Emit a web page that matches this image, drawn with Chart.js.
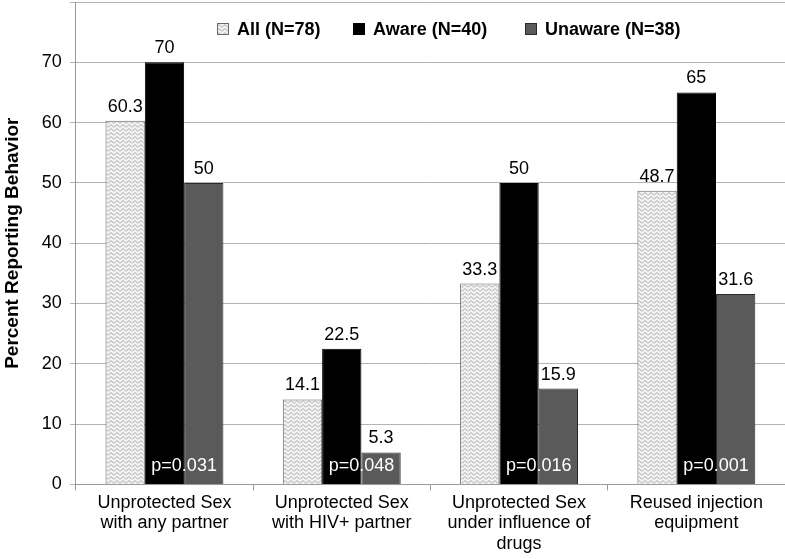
<!DOCTYPE html>
<html>
<head>
<meta charset="utf-8">
<script src="https://cdn.jsdelivr.net/npm/chart.js@4.4.0/dist/chart.umd.min.js"></script>
<style>
  html, body { margin: 0; padding: 0; background: #fff; }
  #wrap { width: 785px; height: 559px; }
</style>
</head>
<body>
<div id="wrap"><canvas id="chart"></canvas></div>
<script>
// categories and values
const categories = [
    ['Unprotected Sex', 'with any partner'],
    ['Unprotected Sex', 'with HIV+ partner'],
    ['Unprotected Sex', 'under influence of', 'drugs'],
    ['Reused injection', 'equipment']
];
const allValues = [60.3, 14.1, 33.3, 48.7];
const awareValues = [70, 22.5, 50, 65];
const unawareValues = [50, 5.3, 15.9, 31.6];
const pValues = ['p=0.031', 'p=0.048', 'p=0.016', 'p=0.001'];

const FONT = 'Liberation Sans, Arial, sans-serif';

// zigzag fill for the "All" bars
function zigzagPattern() {
    const c = document.createElement('canvas');
    c.width = 6; c.height = 4;
    const g = c.getContext('2d');
    g.fillStyle = '#f2f2f2';
    g.fillRect(0, 0, 6, 4);
    g.strokeStyle = '#a8a8a8';
    g.lineWidth = 1;
    g.beginPath();
    g.moveTo(0, 3.5); g.lineTo(3, 0.5); g.lineTo(6, 3.5);
    g.stroke();
    return g.createPattern(c, 'repeat');
}

const barLabels = {
    id: 'barLabels',
    afterDatasetsDraw(chart) {
        const ctx = chart.ctx;
        ctx.save();
        ctx.font = '18px ' + FONT;
        ctx.textAlign = 'center';
        ctx.textBaseline = 'bottom';
        ctx.fillStyle = '#000';
        chart.data.datasets.forEach((ds, i) => {
            chart.getDatasetMeta(i).data.forEach((bar, j) => {
                ctx.fillText(String(ds.data[j]), bar.x, bar.y - 5);
            });
        });
        // p values, centred on the Aware/Unaware boundary
        const aware = chart.getDatasetMeta(1).data;
        const base = chart.scales.y.getPixelForValue(0);
        ctx.fillStyle = '#fff';
        ctx.textBaseline = 'middle';
        aware.forEach((bar, j) => {
            ctx.fillText(pValues[j], bar.x + bar.width / 2, base - 18);
        });
        ctx.restore();
    }
};

// legend drawn inside the plot, across the top
const topLegend = {
    id: 'topLegend',
    afterDraw(chart) {
        const ctx = chart.ctx;
        const items = [[217, 237], [353, 373], [525, 545]];
        const y = 29;
        ctx.save();
        ctx.font = 'bold 18px ' + FONT;
        ctx.textAlign = 'left';
        ctx.textBaseline = 'middle';
        chart.data.datasets.forEach((ds, i) => {
            const [bx, tx] = items[i];
            ctx.fillStyle = ds.backgroundColor;
            ctx.fillRect(bx, y - 6, 12, 12);
            ctx.strokeStyle = ds.borderColor;
            ctx.lineWidth = 1;
            ctx.strokeRect(bx + 0.5, y - 5.5, 11, 11);
            ctx.fillStyle = '#000';
            ctx.fillText(ds.label, tx, y + 1);
        });
        ctx.restore();
    }
};

new Chart(document.getElementById('chart'), {
    type: 'bar',
    data: {
        labels: categories,
        datasets: [
            {
                label: 'All (N=78)',
                data: allValues,
                backgroundColor: zigzagPattern(),
                borderColor: '#6a6a6a',
                borderWidth: 1
            },
            {
                label: 'Aware (N=40)',
                data: awareValues,
                backgroundColor: '#000000',
                borderColor: '#000000',
                borderWidth: 1
            },
            {
                label: 'Unaware (N=38)',
                data: unawareValues,
                backgroundColor: '#5a5a5a',
                borderColor: '#2a2a2a',
                borderWidth: 1
            }
        ]
    },
    options: {
        responsive: true,
        maintainAspectRatio: false,
        animation: false,
        layout: { padding: { top: 2, right: 0, bottom: 3, left: 0 } },
        datasets: {
            bar: { categoryPercentage: 0.665, barPercentage: 1.0 }
        },
        plugins: {
            tooltip: { enabled: false },
            legend: { display: false }
        },
        scales: {
            x: {
                grid: {
                    drawOnChartArea: false,
                    drawTicks: true,
                    tickLength: 6,
                    color: '#9a9a9a'
                },
                border: { color: '#9a9a9a' },
                ticks: {
                    font: { family: FONT, size: 18, lineHeight: 1.14 },
                    color: '#000',
                    maxRotation: 0,
                    autoSkip: false,
                    padding: 2
                }
            },
            y: {
                min: 0,
                max: 80,
                afterFit: scale => { scale.paddingTop = 0; },
                ticks: {
                    stepSize: 10,
                    font: c => (c.tick && c.tick.value === 80
                        ? { family: FONT, size: 1 }
                        : { family: FONT, size: 18 }),
                    color: '#000',
                    padding: 8,
                    callback: v => (v === 80 ? '' : v)
                },
                grid: { color: '#b4b4b4', tickLength: 6 },
                border: { color: '#9a9a9a' },
                title: {
                    display: true,
                    text: 'Percent Reporting Behavior',
                    font: { family: FONT, size: 19, weight: 'bold' },
                    color: '#000',
                    padding: { top: 1, bottom: 10 }
                }
            }
        }
    },
    plugins: [barLabels, topLegend]
});
</script>
</body>
</html>
